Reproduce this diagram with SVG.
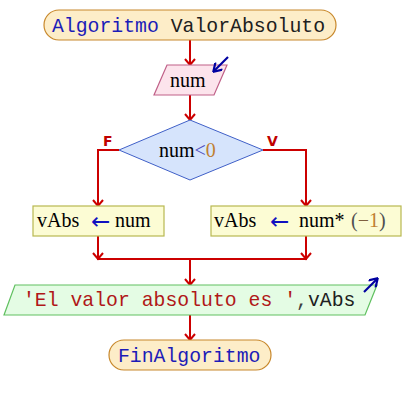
<svg xmlns="http://www.w3.org/2000/svg" width="412" height="405" viewBox="0 0 412 405">
<defs>
<style>
.mono{font-family:"Liberation Mono","Courier New",monospace;font-size:19.8px}
.serif{font-family:"Liberation Serif","Times New Roman",serif;font-size:20px}
.arr{font-family:"DejaVu Sans",sans-serif;font-size:23px;fill:#1010c0}
.lbl{font-family:"DejaVu Sans",sans-serif;font-size:14px;font-weight:bold;fill:#c00000}
.term{fill:#fdedc8;stroke:#c8882c;stroke-width:1.2}
.assign{fill:#fcfcd4;stroke:#b8b850;stroke-width:1.2}
.conn{fill:none;stroke:#cc0000;stroke-width:2}
.io{fill:none;stroke:#0000a0;stroke-width:2.2}
</style>
<marker id="ah" markerWidth="12" markerHeight="10" refX="6" refY="7" viewBox="0 0 12 10" orient="0" markerUnits="userSpaceOnUse">
<path d="M1,1 L6,7 L11,1" fill="none" stroke="#cc0000" stroke-width="2"/>
</marker>
<marker id="ioh" markerWidth="10" markerHeight="10" refX="8" refY="5" viewBox="0 0 10 10" orient="auto" markerUnits="userSpaceOnUse">
<path d="M1,0 L9,5 L1,10" fill="none" stroke="#0000a0" stroke-width="2.2"/>
</marker>
</defs>
<rect width="412" height="405" fill="#ffffff"/>
<g id="connectors">
<path class="conn" d="M190,40 V65" marker-end="url(#ah)"/>
<path class="conn" d="M190,95 V120" marker-end="url(#ah)"/>
<path class="conn" d="M119,150 H98 V206" marker-end="url(#ah)"/>
<path class="conn" d="M263,150 H306 V206" marker-end="url(#ah)"/>
<path class="conn" d="M98,236 V259" marker-end="url(#ah)"/>
<path class="conn" d="M306,236 V259" marker-end="url(#ah)"/>
<path class="conn" d="M97,259 H307"/>
<path class="conn" d="M190,259 V285" marker-end="url(#ah)"/>
<path class="conn" d="M190,315 V340" marker-end="url(#ah)"/>
<text class="lbl" x="103" y="146">F</text>
<text class="lbl" x="267" y="146">V</text>
</g>
<g id="start">
<rect class="term" x="44" y="10" width="292" height="30" rx="15"/>
<text class="mono" x="52" y="32"><tspan fill="#1c1cb8">Algoritmo</tspan><tspan fill="#202020"> ValorAbsoluto</tspan></text>
</g>
<g id="input">
<polygon points="167,65 227,65 214,95 154,95" fill="#fce4ec" stroke="#c06088" stroke-width="1.2"/>
<text class="serif" x="170" y="87" fill="#000">num</text>
<path class="io" d="M228,57 L214,71" marker-end="url(#ioh)"/>
</g>
<g id="decision">
<polygon points="190,120 263,150 190,180 119,150" fill="#d6e4fc" stroke="#4060c8" stroke-width="1"/>
<text class="serif" x="159" y="157"><tspan fill="#000">num</tspan><tspan fill="#5050c0">&lt;</tspan><tspan fill="#c08030">0</tspan></text>
</g>
<g id="assignF">
<rect class="assign" x="33" y="206" width="131" height="30"/>
<text class="serif" x="37" y="227" fill="#000">vAbs</text>
<text class="arr" x="91" y="229">←</text>
<text class="serif" x="115" y="227" fill="#000">num</text>
</g>
<g id="assignV">
<rect class="assign" x="211" y="206" width="190" height="30"/>
<text class="serif" x="214" y="227" fill="#000">vAbs</text>
<text class="arr" x="270" y="229">←</text>
<text class="serif" x="299" y="227" fill="#000">num*</text>
<text class="serif" x="351" y="227"><tspan fill="#505050">(</tspan><tspan fill="#806040">−</tspan><tspan fill="#c08030">1</tspan><tspan fill="#505050">)</tspan></text>
</g>
<g id="output">
<polygon points="15,285 377,285 365,315 4,315" fill="#e4fce4" stroke="#60c060" stroke-width="1.2"/>
<text class="mono" x="23" y="306"><tspan fill="#b01818">'El valor absoluto es '</tspan><tspan fill="#404040">,</tspan><tspan fill="#202020">vAbs</tspan></text>
<path class="io" d="M364,292 L377,279" marker-end="url(#ioh)"/>
</g>
<g id="end">
<rect class="term" x="109" y="340" width="162" height="30" rx="15"/>
<text class="mono" x="118" y="362" fill="#1c1cb8">FinAlgoritmo</text>
</g>
</svg>
